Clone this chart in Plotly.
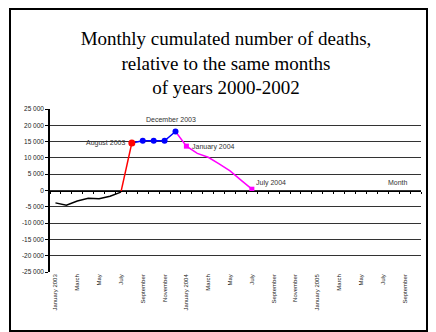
import plotly.graph_objects as go

months = ["January 2003", "February", "March", "April", "May", "June", "July", "August",
          "September", "October", "November", "December",
          "January 2004", "February", "March", "April", "May", "June", "July", "August",
          "September", "October", "November", "December",
          "January 2005", "February", "March", "April", "May", "June", "July", "August",
          "September", "October"]

# cumulated excess deaths, Jan 2003 .. Jul 2004
deaths = [-3800, -4500, -3200, -2350, -2550, -1750, -500,
          14600, 15250, 15250, 15250, 18100,
          13600, 11400, 10200, 8200, 6000, 3200, 400]

y_ticks = [25000, 20000, 15000, 10000, 5000, 0, -5000, -10000, -15000, -20000, -25000]

# segments: (first index, last index, colour)
segments = [(0, 6, "black"), (6, 7, "#ff0000"), (7, 11, "#0000ff"), (11, 18, "#ff00ff")]

# the page body adds an 8px offset, so work in page pixels minus 8
OFF = 8
W, H = 436 - OFF, 332 - OFF
L, R, T, B = 50 - OFF, 15, 109 - OFF, 60
pw, ph = W - L - R, H - T - B

def px_x(p):
    return (p - OFF - L) / pw

def px_y(p):
    return (H - B - (p - OFF)) / ph

fig = go.Figure()

for i0, i1, col in segments:
    xs = list(range(i0, i1 + 1))
    fig.add_trace(go.Scatter(x=xs, y=deaths[i0:i1 + 1], mode="lines",
                             line=dict(color=col, width=1.5), hoverinfo="skip"))

# markers
fig.add_trace(go.Scatter(x=[7], y=[deaths[7]], mode="markers",
                         marker=dict(color="#ff0000", size=7)))
fig.add_trace(go.Scatter(x=[8, 9, 10, 11], y=deaths[8:12], mode="markers",
                         marker=dict(color="#0000ff", size=6)))
fig.add_trace(go.Scatter(x=[12, 18], y=[deaths[12], deaths[18]], mode="markers",
                         marker=dict(color="#ff00ff", size=5, symbol="square")))

# invisible trace to carry the zero-line axis with its month ticks
fig.add_trace(go.Scatter(x=[0], y=[0], xaxis="x2", mode="markers",
                         marker=dict(opacity=0), hoverinfo="skip"))

n = len(months)
fig.update_layout(
    width=W, height=H,
    margin=dict(l=L, r=R, t=T, b=B),
    paper_bgcolor="white", plot_bgcolor="white",
    showlegend=False,
    font=dict(family="Liberation Sans", size=6, color="#222"),
    title=dict(text="Monthly cumulated number of deaths,<br>relative to the same months<br>of years 2000-2002",
               font=dict(family="Liberation Serif", size=19, color="black"),
               x=(226 - OFF) / W, xanchor="center", y=1 - (45 - OFF) / H, yanchor="middle"),
    xaxis=dict(range=[-0.5, n - 0.5], tickvals=list(range(0, n, 2)),
               ticktext=months[0::2], tickangle=-90, showgrid=False,
               zeroline=False, showline=False, ticks="", automargin=False,
               tickfont=dict(size=6, family="Liberation Sans", color="#222")),
    xaxis2=dict(range=[-0.5, n - 0.5], overlaying="x", anchor="free", position=0.5,
                tickvals=[i - 0.5 for i in range(n + 1)], showticklabels=False,
                ticks="outside", ticklen=2, tickcolor="black", tickwidth=1,
                showline=True, linecolor="black", linewidth=1.2, showgrid=False,
                zeroline=False),
    yaxis=dict(range=[-25000, 25000], tickvals=y_ticks,
               ticktext=[f"{v:,}".replace(",", " ") for v in y_ticks],
               showgrid=True, gridcolor="#333", gridwidth=1, zeroline=False,
               showline=True, linecolor="black", linewidth=1.5, automargin=False,
               ticks="outside", ticklen=3, tickcolor="black",
               tickfont=dict(size=6.5, family="Liberation Sans", color="#222")),
)

ann = dict(showarrow=False, font=dict(size=7, family="Liberation Sans", color="#333"))
fig.add_annotation(x=7, y=deaths[7], text="August 2003", xanchor="right", xshift=-5, **ann)
fig.add_annotation(x=11, y=deaths[11], text="December 2003", xanchor="center", xshift=-4, yshift=12, **ann)
fig.add_annotation(x=12, y=deaths[12], text="January 2004", xanchor="left", xshift=4, yshift=-1, **ann)
fig.add_annotation(x=18, y=deaths[18], text="July 2004", xanchor="left", xshift=2, yshift=6, **ann)
fig.add_annotation(x=31.4, y=0, text="Month", xanchor="center", yshift=8, **ann)

# outer frame (right/top edges pulled in to the visible page area)
fig.add_shape(type="rect", xref="paper", yref="paper",
              x0=px_x(10), x1=px_x(427), y0=px_y(9), y1=px_y(331),
              line=dict(color="black", width=2))

fig.write_html("out.html")
